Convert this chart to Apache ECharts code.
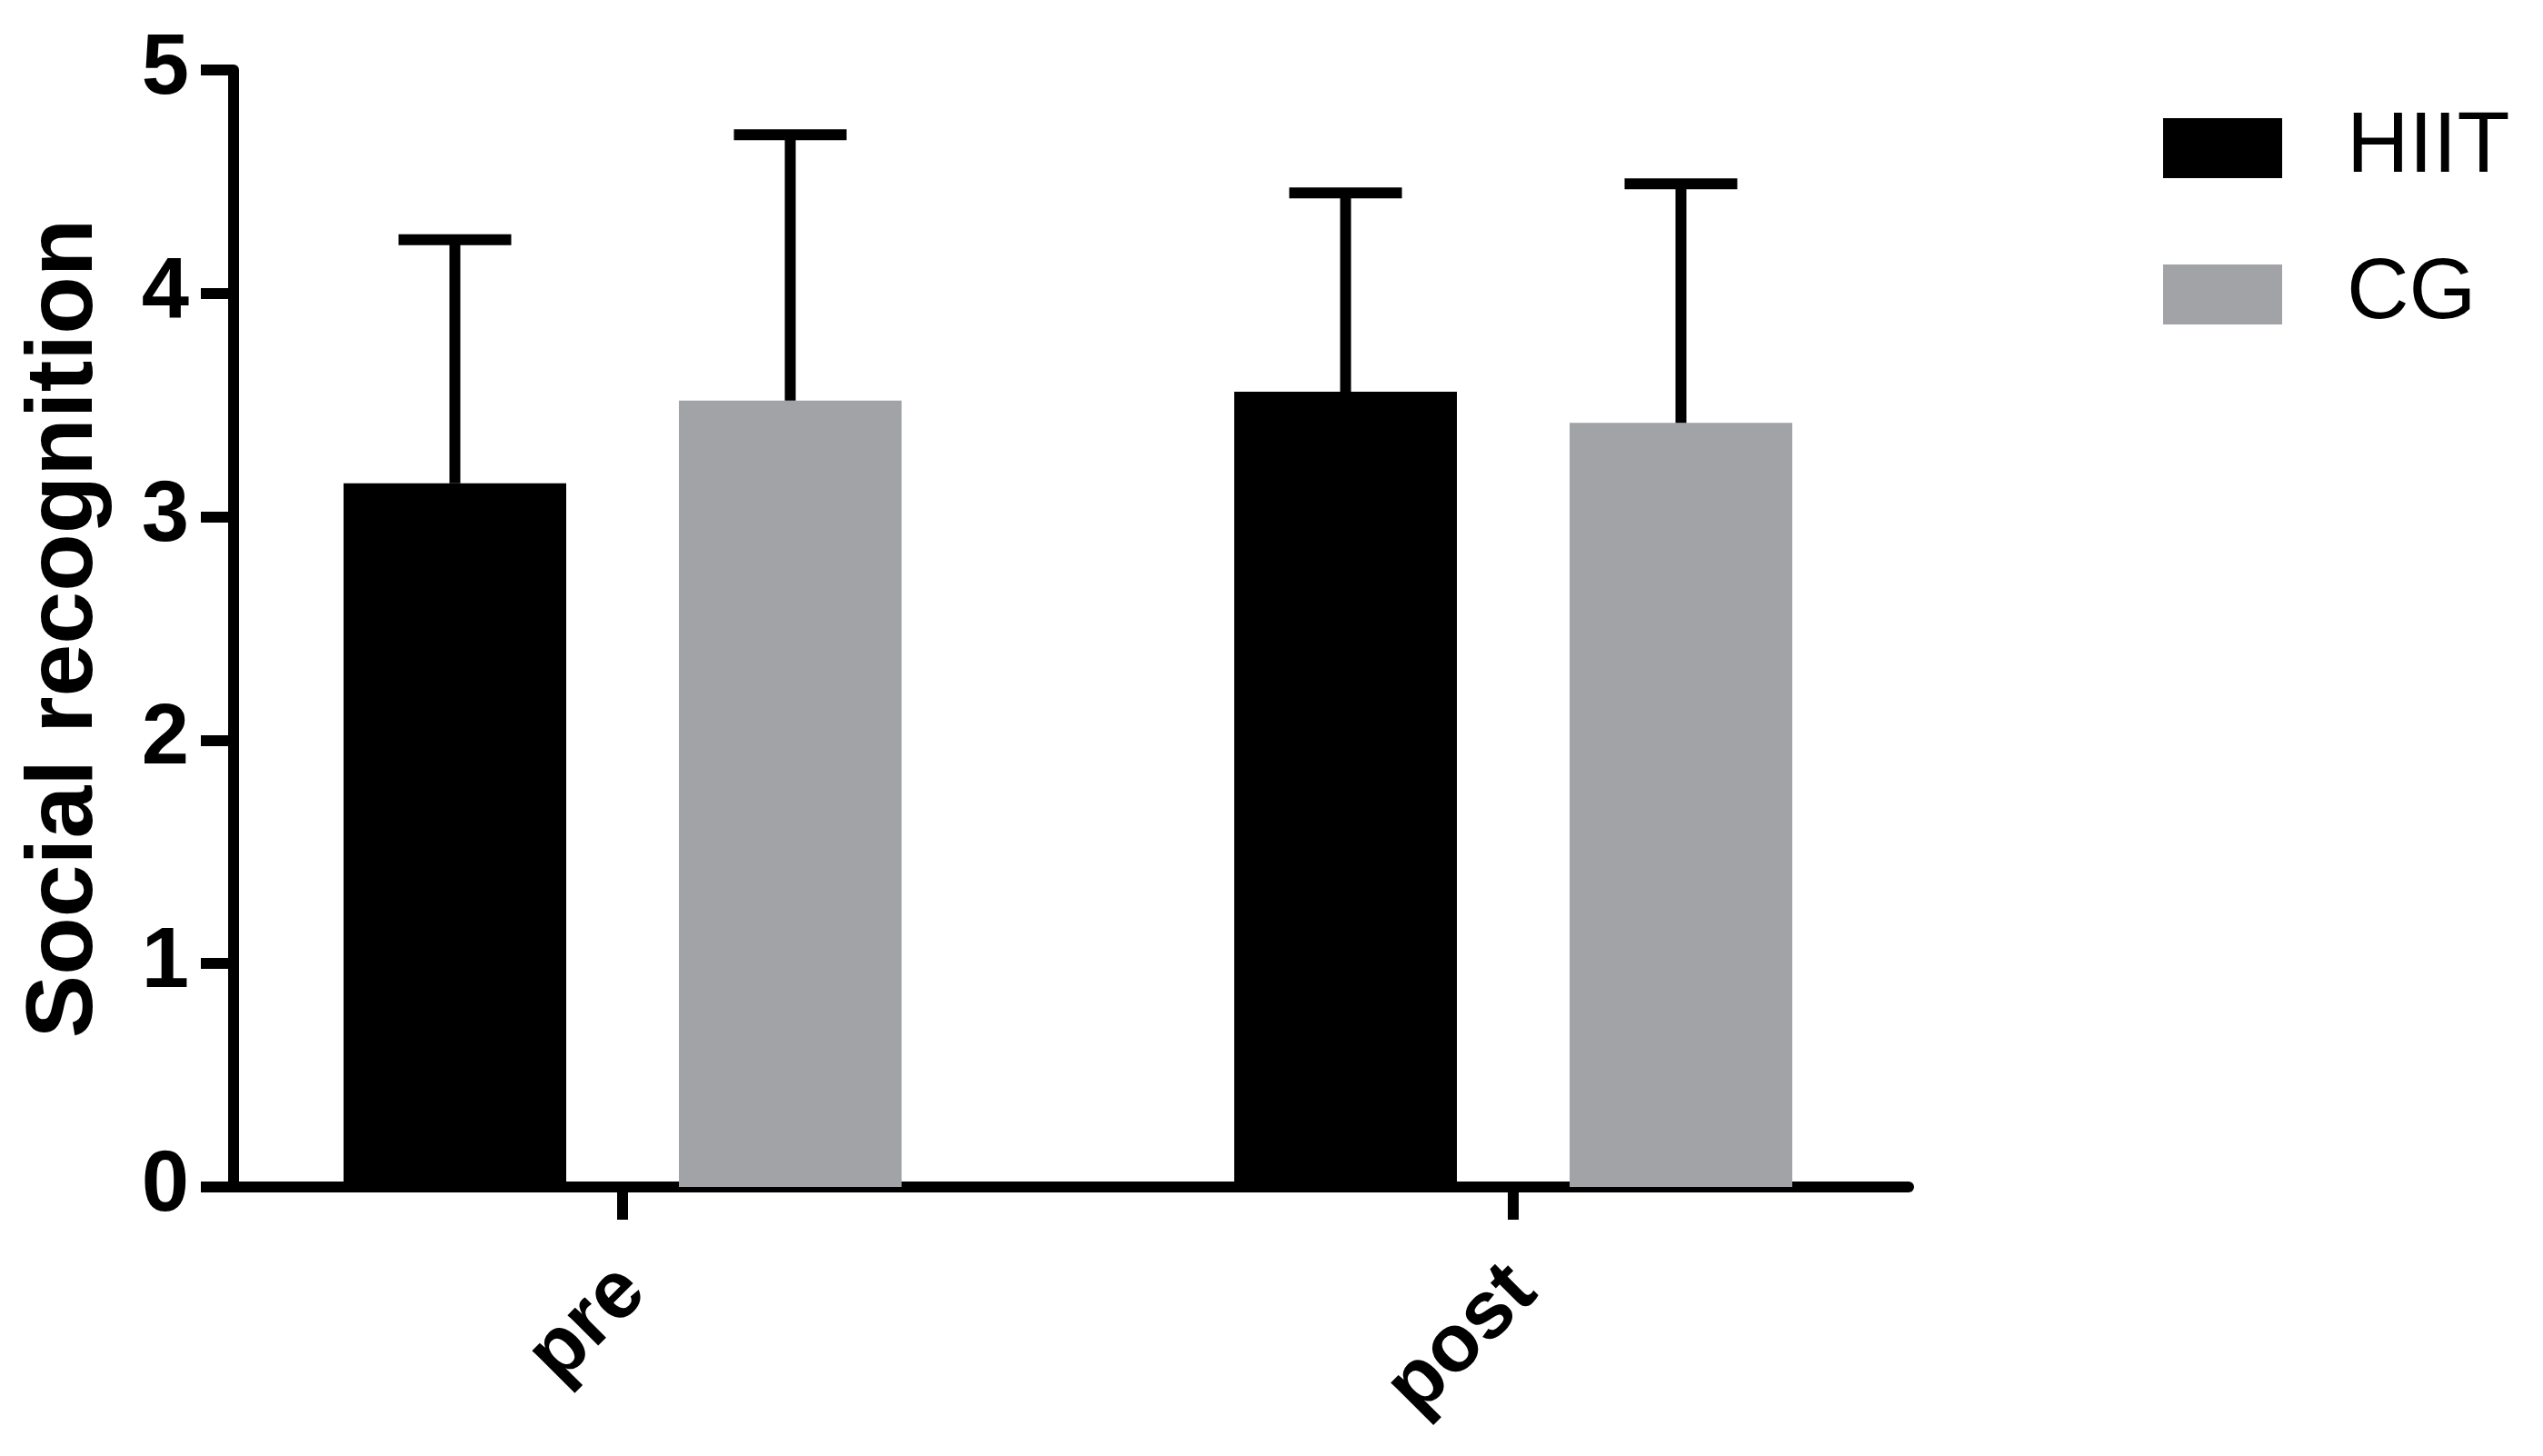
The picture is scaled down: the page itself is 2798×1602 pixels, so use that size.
<!DOCTYPE html>
<html>
<head>
<meta charset="utf-8">
<script src="https://cdn.jsdelivr.net/npm/echarts@6/dist/echarts.min.js"></script>
<style>
  html, body { margin: 0; padding: 0; background: #fff; }
  #chart { width: 2798px; height: 1602px; }
</style>
</head>
<body>
<div id="chart"></div>
<script>
// data
const categories = ['pre', 'post']
const groups = ['HIIT', 'CG']
const hiitMean = [3.15, 3.56]
const hiitSd = [1.09, 0.89]
const cgMean = [3.52, 3.42]
const cgSd = [1.19, 1.07]
const yMin = 0
const yMax = 5
const yStep = 1

const FONT = '"Liberation Sans", Arial, sans-serif'
const BAR_W = 245
const BAR_GAP = 124
const LINE_W = 12
const CAP_HALF = 62

// error bar (upper only) drawn beside the bar of a given group
function errorBar (offset) {
  return function (params, api) {
    const base = api.coord([api.value(0), api.value(1)])
    const top = api.coord([api.value(0), api.value(2)])
    const x = base[0] + offset
    const style = { stroke: '#000', lineWidth: LINE_W, fill: null }
    return {
      type: 'group',
      children: [
        { type: 'line', shape: { x1: x, y1: base[1], x2: x, y2: top[1] }, style: style },
        { type: 'line', shape: { x1: x - CAP_HALF, y1: top[1], x2: x + CAP_HALF, y2: top[1] }, style: style }
      ]
    }
  }
}

function errData (mean, sd) {
  return mean.map(function (m, i) { return [i, m, m + sd[i]] })
}

const half = (BAR_W + BAR_GAP) / 2

let chart = echarts.init(document.getElementById('chart'))
chart.setOption({
  animation: false,
  backgroundColor: '#fff',
  textStyle: { fontFamily: FONT },
  legend: {
    data: groups,
    orient: 'vertical',
    left: 2375,
    top: 108,
    icon: 'rect',
    itemWidth: 131,
    itemHeight: 66,
    itemGap: 61,
    textStyle: { fontFamily: FONT, fontSize: 95, color: '#000', lineHeight: 100, padding: [0, 0, 0, 66] }
  },
  grid: [
    // frame: the visible axes
    { left: 257, top: 77, width: 1843, height: 1229 },
    // bars: category bands
    { left: 195, top: 77, width: 1960, height: 1229 }
  ],
  xAxis: [
    {
      gridIndex: 0,
      type: 'value',
      min: 0,
      max: 1,
      axisLine: { show: true, lineStyle: { color: '#000', width: LINE_W } },
      axisTick: { show: false },
      axisLabel: { show: false },
      splitLine: { show: false }
    },
    {
      gridIndex: 1,
      type: 'category',
      data: categories,
      axisLine: { show: false },
      axisTick: { show: true, alignWithLabel: true, length: 36, lineStyle: { color: '#000', width: LINE_W } },
      axisLabel: {
        rotate: 45,
        margin: 90,
        interval: 0,
        verticalAlign: 'top',
        lineHeight: 32,
        fontFamily: FONT,
        fontSize: 90,
        fontWeight: 'bold',
        color: '#000'
      }
    }
  ],
  yAxis: [
    {
      gridIndex: 0,
      type: 'value',
      min: yMin,
      max: yMax,
      interval: yStep,
      name: 'Social recognition',
      nameLocation: 'middle',
      nameGap: 133,
      nameTextStyle: { fontFamily: FONT, fontSize: 104, fontWeight: 'bold', color: '#000' },
      axisLine: { show: true, lineStyle: { color: '#000', width: LINE_W } },
      axisTick: { show: true, length: 36, lineStyle: { color: '#000', width: LINE_W } },
      axisLabel: { margin: 49, fontFamily: FONT, fontSize: 94, fontWeight: 'bold', color: '#000' },
      splitLine: { show: false }
    },
    {
      gridIndex: 1,
      type: 'value',
      min: yMin,
      max: yMax,
      show: false
    }
  ],
  series: [
    {
      name: 'HIIT',
      type: 'bar',
      xAxisIndex: 1,
      yAxisIndex: 1,
      barWidth: BAR_W,
      barGap: (BAR_GAP / BAR_W * 100) + '%',
      itemStyle: { color: '#000' },
      data: hiitMean
    },
    {
      name: 'CG',
      type: 'bar',
      xAxisIndex: 1,
      yAxisIndex: 1,
      barWidth: BAR_W,
      barGap: (BAR_GAP / BAR_W * 100) + '%',
      itemStyle: { color: '#a2a3a6' },
      data: cgMean
    },
    {
      name: 'HIIT err',
      type: 'custom',
      xAxisIndex: 1,
      yAxisIndex: 1,
      z: 3,
      renderItem: errorBar(-half),
      data: errData(hiitMean, hiitSd)
    },
    {
      name: 'CG err',
      type: 'custom',
      xAxisIndex: 1,
      yAxisIndex: 1,
      z: 3,
      renderItem: errorBar(half),
      data: errData(cgMean, cgSd)
    }
  ]
})
</script>
</body>
</html>
